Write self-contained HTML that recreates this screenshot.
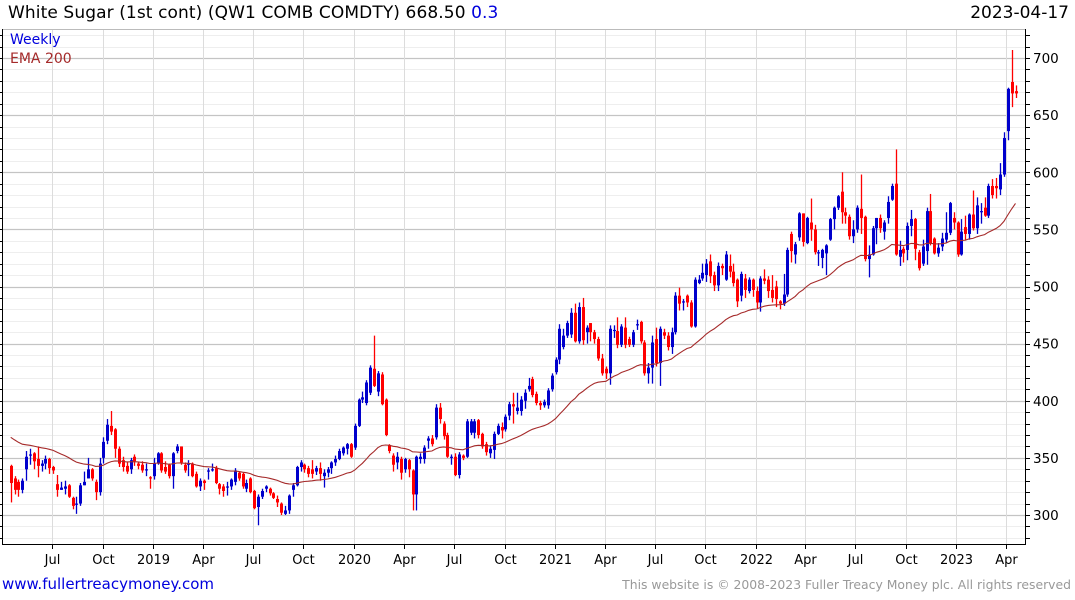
<!DOCTYPE html>
<html><head><meta charset="utf-8"><style>
body{margin:0;background:#fff;width:1075px;height:600px;overflow:hidden;font-family:"DejaVu Sans","Liberation Sans",sans-serif}
svg{position:absolute;left:0;top:0}
</style></head><body>
<svg id="chart" width="1075" height="600"></svg>
<script>
const opens=[343,332,329,322,340,352,354,349,343,345,349,342,327,322,323,326,315,309,310,326,332,340,329,320,350,365,378,375,358,348,343,340,351,345,344,339,333,334,345,354,342,344,334,356,360,344,344,345,336,325,330,338,339,341,327,325,324,325,329,337,336,323,332,321,307,316,323,323,319,314,310,301,304,322,326,342,344,341,340,338,341,334,337,341,346,349,354,358,362,359,378,
401,398,407,428,408,423,401,361,352,346,349,340,348,339,318,349,349,365,367,368,394,380,370,350,351,335,352,351,372,372,383,371,362,354,357,371,377,375,387,397,391,391,400,410,419,406,398,396,396,410,425,436,447,457,458,477,452,482,460,468,460,454,437,428,424,461,461,449,464,454,449,466,469,451,424,429,454,433,460,457,447,460,492,486,492,486,465,503,
507,510,522,510,501,518,506,518,513,506,492,507,496,506,496,486,507,506,497,500,487,485,493,546,528,543,564,538,556,550,529,525,529,541,559,569,583,565,561,544,550,568,561,524,528,551,560,548,560,576,590,526,533,532,553,559,530,520,531,566,542,529,535,541,547,560,556,528,552,546,563,551,565,569,562,588,588,585,598,636,679,671];
const closes=[328,322,322,330,351,353,347,343,345,349,341,339,322,324,325,316,308,310,326,329,340,332,320,345,364,379,373,358,345,342,338,348,347,343,339,340,332,345,354,339,338,334,354,360,346,339,345,334,325,330,328,339,340,328,323,321,325,331,339,332,325,328,320,306,316,321,325,319,315,311,302,304,317,326,342,346,340,336,336,341,336,337,340,346,349,356,359,362,351,378,401,
403,416,429,413,424,397,370,356,344,351,337,349,340,318,351,351,359,367,362,394,384,369,351,351,335,353,350,382,382,382,370,360,355,358,371,378,374,386,397,395,394,401,407,413,405,398,396,399,409,422,436,463,457,468,477,452,482,453,464,460,454,437,424,424,463,462,449,465,449,449,460,467,452,424,429,451,433,463,457,447,460,492,485,487,486,465,506,506,
512,520,509,501,518,516,528,513,503,487,511,497,506,497,486,507,505,496,490,489,485,493,532,531,537,564,539,560,550,530,530,532,536,559,569,579,565,562,544,550,569,560,524,528,551,560,551,556,574,588,528,532,529,553,559,533,516,535,566,538,529,534,542,547,573,556,528,548,546,563,551,571,566,562,588,580,586,598,630,673,669,669];
const highs=[344,334,331,332,356,358,355,360,348,352,350,343,335,329,330,327,316,316,328,338,350,341,331,350,368,384,391,376,360,351,346,350,353,346,347,345,334,350,355,355,347,345,355,362,360,346,348,346,338,332,331,341,345,343,328,327,329,332,341,338,337,331,333,322,318,323,326,324,320,317,311,308,318,328,343,348,345,343,348,343,346,340,342,347,352,358,360,363,363,380,402,
408,418,431,457,426,425,402,362,354,355,351,350,349,340,352,354,361,369,370,397,398,382,372,353,354,355,353,384,384,384,384,372,364,361,373,380,381,388,399,407,407,404,410,420,421,408,400,401,411,424,438,467,463,470,481,485,486,490,466,468,462,456,441,430,466,466,473,467,473,456,462,471,470,453,433,457,464,465,463,460,464,495,499,489,493,488,508,510,
520,524,528,513,521,520,531,528,520,507,513,511,508,507,500,509,515,509,510,505,488,511,534,548,539,565,564,561,577,554,532,533,537,560,570,580,600,569,563,558,571,598,562,536,553,560,563,558,579,590,620,540,535,556,567,560,532,541,569,581,543,538,547,565,574,565,557,559,562,564,584,578,573,578,590,594,595,608,635,674,707,676];
const lows=[311,318,316,319,330,344,340,333,338,340,336,336,316,322,318,315,305,301,308,326,332,330,313,317,345,362,370,350,342,338,336,336,343,340,337,334,323,331,344,337,336,332,323,354,344,337,334,333,324,321,322,331,338,327,318,316,317,322,326,330,323,320,319,305,291,314,320,317,314,307,300,300,301,316,325,338,337,333,332,335,330,324,333,336,343,348,352,353,350,357,377,
398,396,405,412,404,396,369,354,338,340,331,337,333,304,304,345,345,358,360,366,380,366,350,344,334,332,348,350,370,367,367,358,352,350,349,370,367,373,383,380,388,387,393,408,403,396,392,394,393,408,423,432,445,455,455,451,450,449,450,452,450,435,422,419,414,455,446,447,446,447,447,462,450,422,415,415,430,413,454,444,441,458,479,479,482,464,464,502,
505,504,503,496,496,510,505,508,500,482,487,490,494,491,481,478,502,490,486,482,480,483,491,521,520,540,535,537,540,528,518,516,510,540,550,567,555,555,541,538,547,546,522,508,527,537,547,541,555,575,527,518,521,523,544,523,514,518,519,536,528,526,531,538,545,550,526,527,541,541,549,546,555,561,560,577,577,580,596,628,657,665];
const lastDate="2023-04-17";
const tickLabels=["Jul","Oct","2019","Apr","Jul","Oct","2020","Apr","Jul","Oct","2021","Apr","Jul","Oct","2022","Apr","Jul","Oct","2023","Apr"];
const tickDates=["2018-07-01","2018-10-01","2019-01-01","2019-04-01","2019-07-01","2019-10-01","2020-01-01","2020-04-01","2020-07-01","2020-10-01","2021-01-01","2021-04-01","2021-07-01","2021-10-01","2022-01-01","2022-04-01","2022-07-01","2022-10-01","2023-01-01","2023-04-01"];
const yTicks=[300,350,400,450,500,550,600,650,700];

const NS="http://www.w3.org/2000/svg";
const svg=document.getElementById('chart');
const L=2,R=1025,T=29,B=544;
function y(v){return 515-(v-300)*1.1425;}
const D0=Date.UTC(2020,0,1);
function xd(ms){return 354+(ms-D0)/86400000/365.25*200.7;}
const X0=Date.UTC(2018,3,23);
function xc(ms){return 10.7+(ms-X0)/(Date.UTC(2023,3,17)-X0)*(1015.5-10.7);}
function el(t,a,p){const e=document.createElementNS(NS,t);for(const k in a)e.setAttribute(k,a[k]);(p||svg).appendChild(e);return e;}
const grid=el('g',{});


for(let v=280;v<=720;v+=10){const yy=Math.round(y(v))+0.5;if(yy<T||yy>B)continue;
 const major=v%50===0;
 el('line',{x1:L,x2:R,y1:yy,y2:yy,stroke:major?'#c4c4c4':'#eeeeee','stroke-width':major?1.2:1},grid);
 el('line',{x1:R,x2:R+5,y1:yy,y2:yy,stroke:'#000'},grid);
 el('line',{x1:L-3,x2:L,y1:yy,y2:yy,stroke:'#000'},grid);}
tickDates.forEach((d,i)=>{const p=d.split('-');const xx=Math.round(xd(Date.UTC(+p[0],+p[1]-1,+p[2])))+0.5;
 el('line',{x1:xx,x2:xx,y1:T,y2:B,stroke:'#dcdcdc'},grid);
 el('line',{x1:xx,x2:xx,y1:B,y2:B+5,stroke:'#000'},grid);
 const t=el('text',{x:xx,y:564,'text-anchor':'middle','font-size':13,fill:'#000'});t.textContent=tickLabels[i];
 
 });
yTicks.forEach(v=>{const t=el('text',{x:1033,y:y(v)+5,'font-size':13.5,fill:'#000'});t.textContent=v;
 
 });
el('line',{x1:L,x2:R,y1:T+0.5,y2:T+0.5,stroke:'#bbb'});
el('line',{x1:L+0.5,x2:L+0.5,y1:T,y2:B,stroke:'#000'});
el('line',{x1:R+0.5,x2:R+0.5,y1:T,y2:B,stroke:'#000'});
el('line',{x1:L,x2:R+1,y1:B+0.5,y2:B+0.5,stroke:'#000'});
const n=closes.length;const lp=lastDate.split('-');const lastMs=Date.UTC(+lp[0],+lp[1]-1,+lp[2]);
const cg=el('g',{});


for(let i=0;i<n;i++){const xx=Math.round(xc(lastMs-(n-1-i)*7*86400000));
 const up=closes[i]>=opens[i];const col=up?'#0000cc':'#ff0000';
 const g=el('g',{},cg);
 
 
 el('line',{x1:xx+0.5,x2:xx+0.5,y1:y(highs[i]),y2:y(lows[i]),stroke:col,'stroke-width':1.3},g);
 const top=y(Math.max(opens[i],closes[i])),bot=y(Math.min(opens[i],closes[i]));
 el('rect',{x:xx-1,y:top,width:3,height:Math.max(1.2,bot-top),fill:col},g);}
let e=368;const a=2/41;let pts=[];
for(let i=0;i<n;i++){e=i===0?e:e+a*(closes[i]-e);pts.push(xc(lastMs-(n-1-i)*7*86400000).toFixed(1)+','+y(e).toFixed(1));}
const ema=el('polyline',{points:pts.join(' '),fill:'none',stroke:'#a52a2a','stroke-width':1.1});


</script>
<div style="position:absolute;left:8px;top:3px;font-size:17px;color:#000;letter-spacing:0.1px">White Sugar (1st cont) (QW1 COMB COMDTY) 668.50 <span style="color:#0000dd">0.3</span></div>
<div style="position:absolute;right:6px;top:3px;font-size:17px;color:#000">2023-04-17</div>
<div style="position:absolute;left:10px;top:32px;font-size:14px;color:#0000dd">Weekly</div>
<div style="position:absolute;left:10px;top:51px;font-size:14px;color:#a52a2a">EMA 200</div>
<a style="position:absolute;left:2px;top:575px;font-size:15px;color:#0000dd;text-decoration:none">www.fullertreacymoney.com</a>
<div style="position:absolute;right:4px;top:577px;font-size:12.4px;color:#999">This website is © 2008-2023 Fuller Treacy Money plc. All rights reserved</div>
</body></html>
